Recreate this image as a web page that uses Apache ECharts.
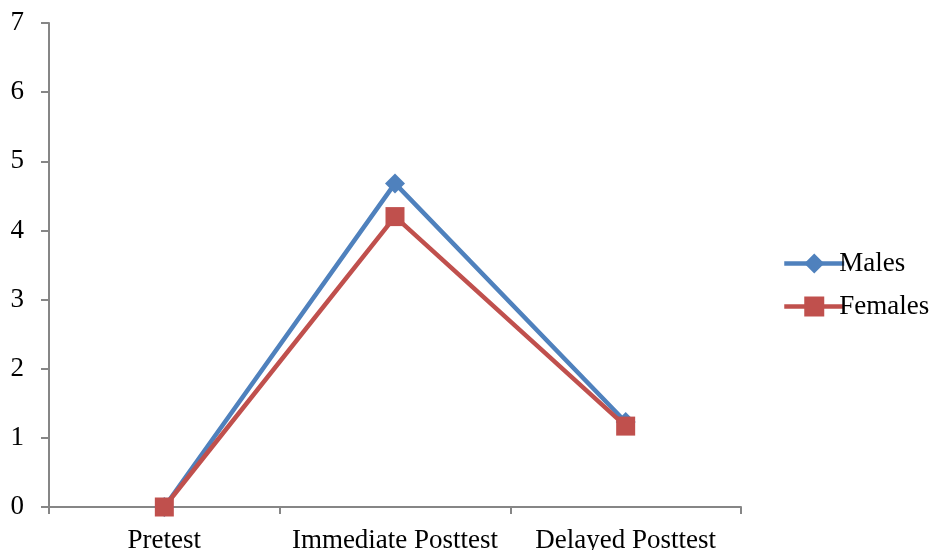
<!DOCTYPE html>
<html>
<head>
<meta charset="utf-8">
<script src="https://cdn.jsdelivr.net/npm/echarts@6/dist/echarts.min.js"></script>
<style>
  html, body { margin: 0; padding: 0; background: #ffffff; }
  #chart { width: 930px; height: 550px; }
</style>
</head>
<body>
<div id="chart"></div>
<script>
// Test phases on the x axis
const categories = ['Pretest', 'Immediate Posttest', 'Delayed Posttest'];
// Mean scores per group
const malesValues = [0, 4.68, 1.23];
const femalesValues = [0, 4.2, 1.17];
// Y axis range
const yMin = 0;
const yMax = 7;
const yStep = 1;

const serif = '"Liberation Serif", "Times New Roman", serif';
const axisGrey = '#868686';

const chart = echarts.init(document.getElementById('chart'), null, { renderer: 'canvas' });
chart.setOption({
  animation: false,
  backgroundColor: '#ffffff',
  grid: { left: 49, right: 189, top: 23, bottom: 43, containLabel: false, outerBoundsMode: 'none' },
  legend: {
    orient: 'vertical',
    left: 777,
    top: 245,
    itemWidth: 60,
    itemHeight: 25,
    itemGap: 16,
    lineStyle: { width: 4.5 },
    textStyle: { fontFamily: serif, fontSize: 27, color: '#000000', padding: [0, 0, 0, -10] },
    data: ['Males', 'Females']
  },
  xAxis: {
    type: 'category',
    data: categories,
    boundaryGap: true,
    axisLine: { lineStyle: { color: axisGrey, width: 2 } },
    axisTick: { show: true, length: 7, lineStyle: { color: axisGrey, width: 2 } },
    axisLabel: { fontFamily: serif, fontSize: 27, color: '#000000', margin: 20, interval: 0 },
    splitLine: { show: false }
  },
  yAxis: {
    type: 'value',
    min: yMin,
    max: yMax,
    interval: yStep,
    axisLine: { show: true, lineStyle: { color: axisGrey, width: 2 } },
    axisTick: { show: true, length: 8, lineStyle: { color: axisGrey, width: 2 } },
    axisLabel: { fontFamily: serif, fontSize: 27, color: '#000000', margin: 25, padding: [4, 0, 0, 0] },
    splitLine: { show: false }
  },
  series: [
    {
      name: 'Males',
      type: 'line',
      data: malesValues,
      symbol: 'diamond',
      symbolSize: 20,
      lineStyle: { color: '#4F81BD', width: 4.5 },
      itemStyle: { color: '#4F81BD' }
    },
    {
      name: 'Females',
      type: 'line',
      data: femalesValues,
      symbol: 'rect',
      symbolSize: 19,
      lineStyle: { color: '#C0504D', width: 4.5 },
      itemStyle: { color: '#C0504D' }
    }
  ]
});
</script>
</body>
</html>
